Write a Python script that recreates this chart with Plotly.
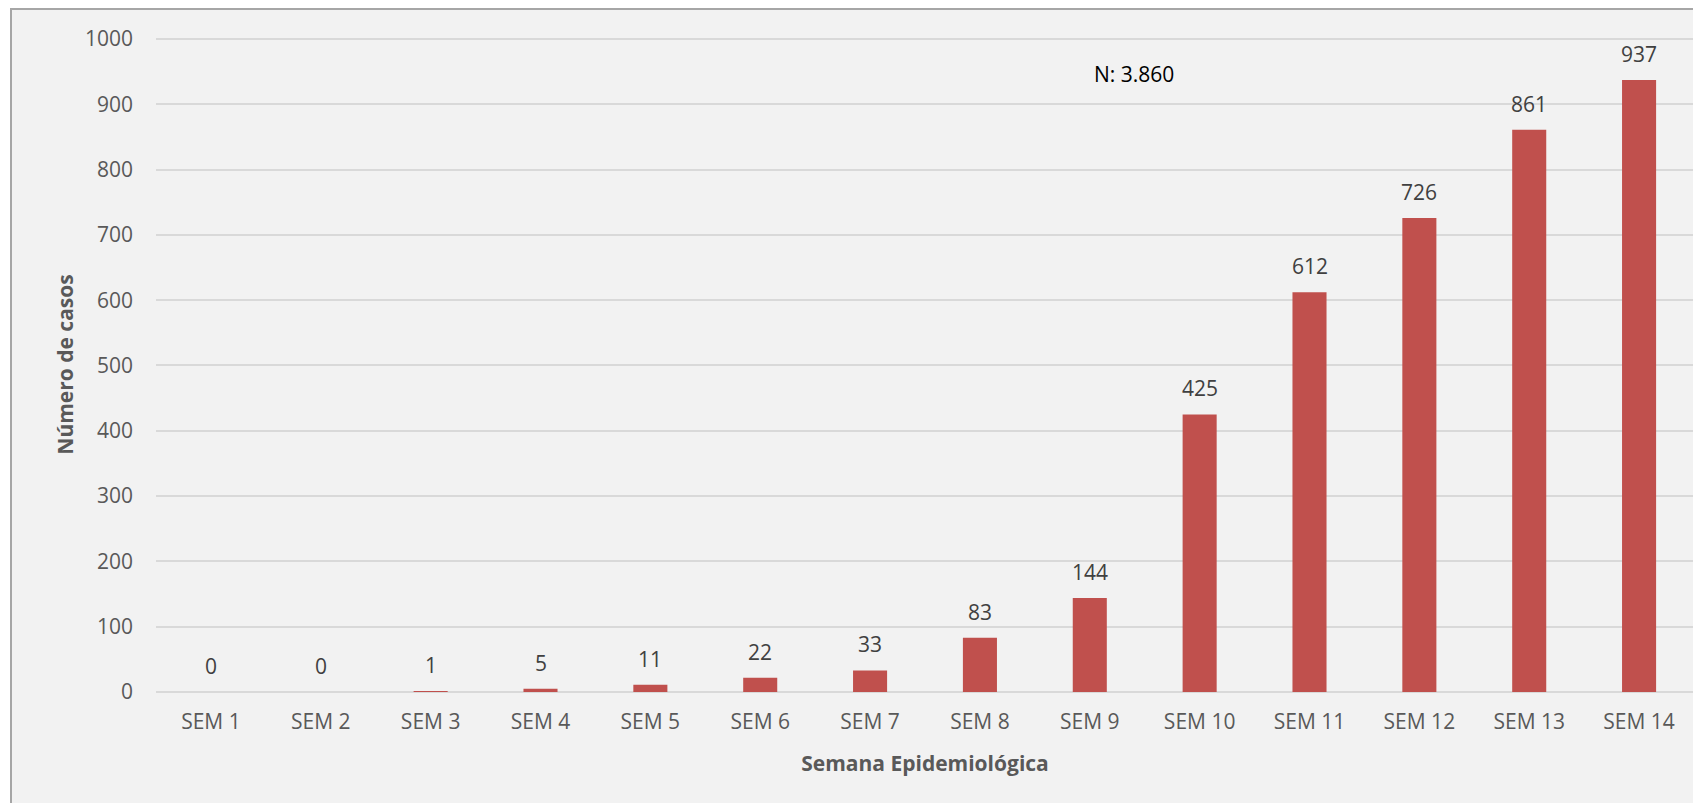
import plotly.graph_objects as go

categories = ["SEM 1", "SEM 2", "SEM 3", "SEM 4", "SEM 5", "SEM 6", "SEM 7",
              "SEM 8", "SEM 9", "SEM 10", "SEM 11", "SEM 12", "SEM 13", "SEM 14"]
casos = [0, 0, 1, 5, 11, 22, 33, 83, 144, 425, 612, 726, 861, 937]
y_ticks = [0, 100, 200, 300, 400, 500, 600, 700, 800, 900, 1000]

FONT = "Open Sans"
GREY = "#595959"

fig = go.Figure()
fig.add_trace(go.Bar(
    x=categories, y=casos,
    marker=dict(color="#c0504d", line=dict(width=0)),
    width=0.31,
))

for c, v in zip(categories, casos):
    fig.add_annotation(x=c, y=v, text=str(v), showarrow=False,
                       yanchor="bottom", yshift=10,
                       font=dict(family=FONT, size=21, color="#404040"))

fig.add_annotation(x=0.6356, y=0.968, xref="paper", yref="paper",
                   text="N: 3.860", showarrow=False,
                   font=dict(family=FONT, size=21, color="#000000"))

# page body has an 8px margin, so positions are compensated
W, H = 1701, 803
L, T = 148, 29
R = W - 1686
B = H - 684
pw, ph = W - L - R, H - T - B
fig.add_shape(type="rect", xref="paper", yref="paper", layer="below",
              x0=(3 - L) / pw, x1=(W + 10 - L) / pw,
              y0=-(B + 10) / ph, y1=(H - B - 1) / ph,
              fillcolor="#f2f2f2", line=dict(color="#a6a6a6", width=2))

fig.update_layout(
    width=W, height=H,
    margin=dict(l=L, r=R, t=T, b=B),
    paper_bgcolor="#ffffff", plot_bgcolor="rgba(0,0,0,0)",
    showlegend=False,
    font=dict(family=FONT, size=21, color=GREY),
    xaxis=dict(
        showgrid=False, showline=False, zeroline=False,
        ticklabelstandoff=15,
        tickfont=dict(family=FONT, size=21, color=GREY),
        title=dict(text="<b>Semana Epidemiológica</b>", standoff=22,
                   font=dict(family=FONT, size=21, color=GREY)),
    ),
    yaxis=dict(
        range=[0, 1003], tickvals=y_ticks,
        showgrid=True, gridcolor="#d9d9d9", gridwidth=1.5,
        zeroline=True, zerolinecolor="#d9d9d9", zerolinewidth=1.5,
        ticklabelstandoff=22,
        tickfont=dict(family=FONT, size=21, color=GREY),
        title=dict(text="<b>Número de casos</b>", standoff=5,
                   font=dict(family=FONT, size=21, color=GREY)),
    ),
)

fig.write_html("out.html")
